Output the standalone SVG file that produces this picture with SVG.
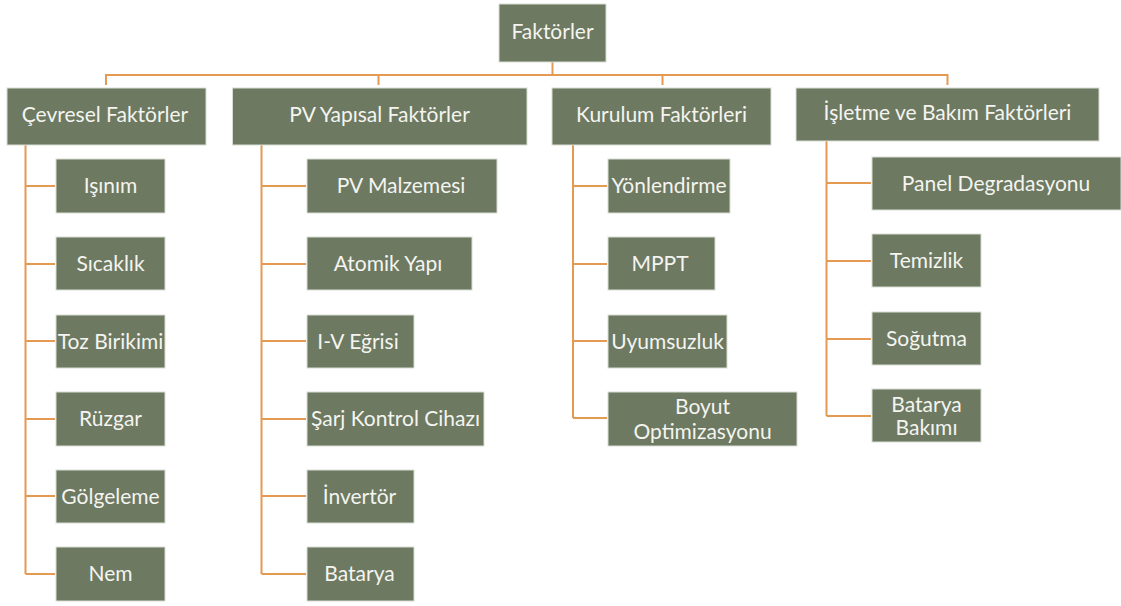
<svg xmlns="http://www.w3.org/2000/svg" width="1121" height="606" viewBox="0 0 1121 606">
<style>
.n{fill:#6d7960;stroke:#d9ddd3;stroke-width:1}
.t{font-family:Lato,"Liberation Sans",sans-serif;font-size:21px;fill:#f4f4f0;text-anchor:middle;dominant-baseline:central}
.c{fill:none;stroke:#e59a52;stroke-width:2}
</style>
<rect width="1121" height="606" fill="#ffffff"/>
<g id="connectors">
<path class="c" d="M552.5 62V75M106 85V75H947.5V85M378.5 75V85M662.5 75V85"/>
<path class="c" d="M25.5 145V574M25.5 186H55M25.5 264H55M25.5 341H55M25.5 419H55M25.5 496H55M25.5 574H55"/>
<path class="c" d="M261.5 145V574M261.5 186H306M261.5 264H306M261.5 341H306M261.5 419H306M261.5 496H306M261.5 574H306"/>
<path class="c" d="M573 145V418M573 186H607M573 264H607M573 341H607M573 418H607"/>
<path class="c" d="M826.5 141V416M826.5 183H871M826.5 261H871M826.5 339H871M826.5 416H871"/>
</g>
<g id="n-faktorler"><rect class="n" x="499" y="4" width="107" height="58"/><text class="t" x="552.5" y="30">Faktörler</text></g>
<g id="n-cevresel"><rect class="n" x="7" y="88" width="199" height="57"/><text class="t" x="105" y="113">Çevresel Faktörler</text></g>
<g id="n-pvyapisal"><rect class="n" x="232.5" y="88" width="294.5" height="57"/><text class="t" x="379.5" y="113">PV Yapısal Faktörler</text></g>
<g id="n-kurulum"><rect class="n" x="552" y="88" width="219" height="57"/><text class="t" x="661.5" y="113">Kurulum Faktörleri</text></g>
<g id="n-isletme"><rect class="n" x="796" y="88" width="303" height="53"/><text class="t" x="947.5" y="111">İşletme ve Bakım Faktörleri</text></g>

<g id="n-isinim"><rect class="n" x="56" y="159" width="109" height="54"/><text class="t" x="110.5" y="184">Işınım</text></g>
<g id="n-sicaklik"><rect class="n" x="56" y="237" width="109" height="53"/><text class="t" x="110.5" y="262">Sıcaklık</text></g>
<g id="n-toz"><rect class="n" x="56" y="315" width="109" height="53"/><text class="t" x="110.5" y="340">Toz Birikimi</text></g>
<g id="n-ruzgar"><rect class="n" x="56" y="392" width="109" height="54"/><text class="t" x="110.5" y="417">Rüzgar</text></g>
<g id="n-golgeleme"><rect class="n" x="56" y="470" width="109" height="53"/><text class="t" x="110.5" y="495">Gölgeleme</text></g>
<g id="n-nem"><rect class="n" x="56" y="547" width="109" height="54"/><text class="t" x="110.5" y="572">Nem</text></g>

<g id="n-pvmalzemesi"><rect class="n" x="307" y="159" width="190" height="54"/><text class="t" x="401" y="184">PV Malzemesi</text></g>
<g id="n-atomik"><rect class="n" x="307" y="237" width="165" height="53"/><text class="t" x="388" y="262">Atomik Yapı</text></g>
<g id="n-iv"><rect class="n" x="307" y="315" width="107" height="53"/><text class="t" x="358" y="340">I-V Eğrisi</text></g>
<g id="n-sarj"><rect class="n" x="307" y="392" width="177" height="54"/><text class="t" x="395.5" y="417">Şarj Kontrol Cihazı</text></g>
<g id="n-invertor"><rect class="n" x="307" y="470" width="107" height="53"/><text class="t" x="359.5" y="495">İnvertör</text></g>
<g id="n-batarya"><rect class="n" x="307" y="547" width="107" height="54"/><text class="t" x="359.5" y="572">Batarya</text></g>

<g id="n-yonlendirme"><rect class="n" x="608" y="159" width="122" height="54"/><text class="t" x="669" y="184">Yönlendirme</text></g>
<g id="n-mppt"><rect class="n" x="608" y="237" width="107" height="53"/><text class="t" x="660" y="262">MPPT</text></g>
<g id="n-uyumsuzluk"><rect class="n" x="608" y="315" width="119" height="53"/><text class="t" x="667.5" y="340">Uyumsuzluk</text></g>
<g id="n-boyut"><rect class="n" x="608" y="392" width="189" height="54"/><text class="t" x="702.5" y="405">Boyut</text><text class="t" x="702.5" y="430">Optimizasyonu</text></g>

<g id="n-panel"><rect class="n" x="872" y="157" width="249" height="53"/><text class="t" x="996" y="182">Panel Degradasyonu</text></g>
<g id="n-temizlik"><rect class="n" x="872" y="234" width="109" height="53"/><text class="t" x="926.5" y="259">Temizlik</text></g>
<g id="n-sogutma"><rect class="n" x="872" y="312" width="109" height="53"/><text class="t" x="926.5" y="337">Soğutma</text></g>
<g id="n-bataryabakimi"><rect class="n" x="872" y="389" width="109" height="53"/><text class="t" x="926.5" y="403">Batarya</text><text class="t" x="926.5" y="426">Bakımı</text></g>
</svg>
